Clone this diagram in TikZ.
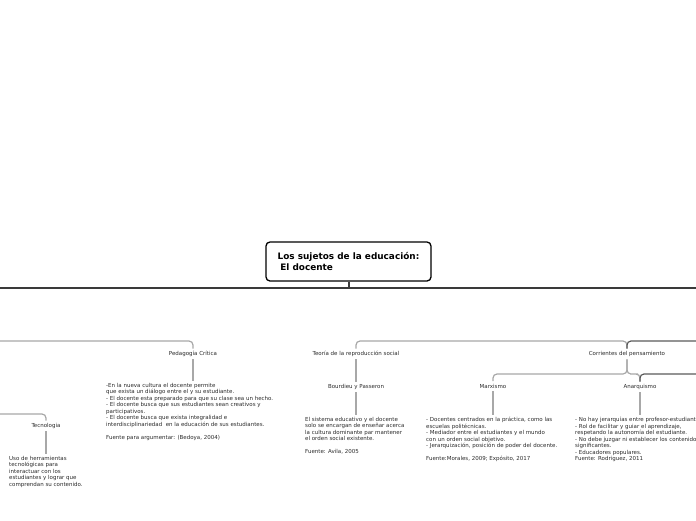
\documentclass[tikz,border=0pt]{standalone}
\usepackage{fontspec}
\setmainfont{DejaVu Sans}
\definecolor{txt}{HTML}{2A2A2A}
\definecolor{lnlight}{HTML}{A8A8A8}
\definecolor{lndark}{HTML}{5A5A5A}
\definecolor{trunkc}{HTML}{3A3A3A}
\tikzset{
 lbl/.style={font=\fontsize{5.5}{6.5}\selectfont, text=txt, inner sep=2.5pt},
 body/.style={font=\fontsize{5.5}{6.5}\selectfont, text=txt, align=left, anchor=north west, inner sep=0pt},
 conn/.style={draw=lnlight, line width=1.2pt, rounded corners=4pt},
 connd/.style={draw=lndark, line width=1.2pt, rounded corners=4pt},
 trunk/.style={draw=trunkc, line width=2pt},
 rootbox/.style={draw=black, line width=1.3pt, rounded corners=4pt, fill=white, font=\fontsize{8.9}{11}\selectfont\bfseries, align=left, minimum width=165pt, minimum height=39pt}
}
\begin{document}
\begin{tikzpicture}[x=1pt,y=-1pt]
\useasboundingbox (0,0) rectangle (696,520);
\clip (0,0) rectangle (696,520);
% root
\node[rootbox] (root) at (348.5,261.5) {Los sujetos de la educación:\\\hspace*{0.3em}El docente};
\coordinate (tl) at (0,288);
\coordinate (tr) at (696,288);
\draw[trunk] (root.south) -- (root.south |- tl);
\draw[trunk] (tl) -- (tr);
% labels
\node[lbl] (ped) at (193,354) {Pedagogía Crítica};
\node[lbl] (teo) at (356,354) {Teoría de la reproducción social};
\node[lbl] (cor) at (627,354) {Corrientes del pensamiento};
\node[lbl] (bour) at (356,387) {Bourdieu y Passeron};
\node[lbl] (marx) at (493,386) {Marxismo};
\node[lbl] (anar) at (640,387) {Anarquismo};
\node[lbl] (tec) at (46,426) {Tecnologia};
% bodies
\node[body] (pedt) at (106,383) {-En la nueva cultura el docente permite\\
que exista un diálogo entre el y su estudiante.\\
- El docente esta preparado para que su clase sea un hecho.\\
- El docente busca que sus estudiantes sean creativos y\\
participativos.\\
- El docente busca que exista integralidad e\\
interdisciplinariedad\ \ en la educación de sus estudiantes.\\[6.5pt]
Fuente para argumentar: (Bedoya, 2004)};
\node[body] (teot) at (305,417) {El sistema educativo y el docente\\
solo se encargan de enseñar acerca\\
la cultura dominante par mantener\\
el orden social existente.\\[6.5pt]
Fuente: Avila, 2005};
\node[body] (marxt) at (426,417) {- Docentes centrados en la práctica, como las\\
escuelas politécnicas.\\
- Mediador entre el estudiantes y el mundo\\
con un orden social objetivo.\\
- Jerarquización, posición de poder del docente.\\[6.5pt]
Fuente:Morales, 2009; Expósito, 2017};
\node[body] (anart) at (575,417) {- No hay jerarquías entre profesor-estudiante.\\
- Rol de facilitar y guiar el aprendizaje,\\
respetando la autonomía del estudiante.\\
- No debe juzgar ni establecer los contenidos\\
significantes.\\
- Educadores populares.\\
Fuente: Rodriguez, 2011};
\node[body] (tect) at (9,456) {Uso de herramientas\\
tecnológicas para\\
interactuar con los\\
estudiantes y lograr que\\
comprendan su contenido.};
% connectors
\coordinate (l1) at (0,341);
\coordinate (bar1) at (500,341);
\coordinate (r1) at (696,341);
\draw[conn] (l1) -| (ped.north);
\draw[conn] (teo.north) |- (bar1) -| (cor.north);
\draw[connd] (cor.north) |- (r1);
\draw[conn, shorten >=2pt] (ped.south) -- (ped.south |- pedt.north);
\draw[conn] (teo.south) -- (bour.north);
\draw[conn, shorten >=2pt] (bour.south) -- (bour.south |- teot.north);
\coordinate (bar2) at (560,374);
\coordinate (bar3) at (634,374);
\coordinate (r2) at (696,374);
\draw[conn] (cor.south) |- (bar2) -| (marx.north);
\draw[conn] (cor.south) |- (bar3) -| (anar.north);
\draw[connd] (anar.north) |- (r2);
\draw[conn, shorten >=2pt] (marx.south) -- (marx.south |- marxt.north);
\draw[conn, shorten >=2pt] (anar.south) -- (anar.south |- anart.north);
\coordinate (l2) at (0,414);
\draw[conn] (l2) -| (tec.north);
\draw[conn, shorten >=2pt] (tec.south) -- (tec.south |- tect.north);
\end{tikzpicture}
\end{document}
